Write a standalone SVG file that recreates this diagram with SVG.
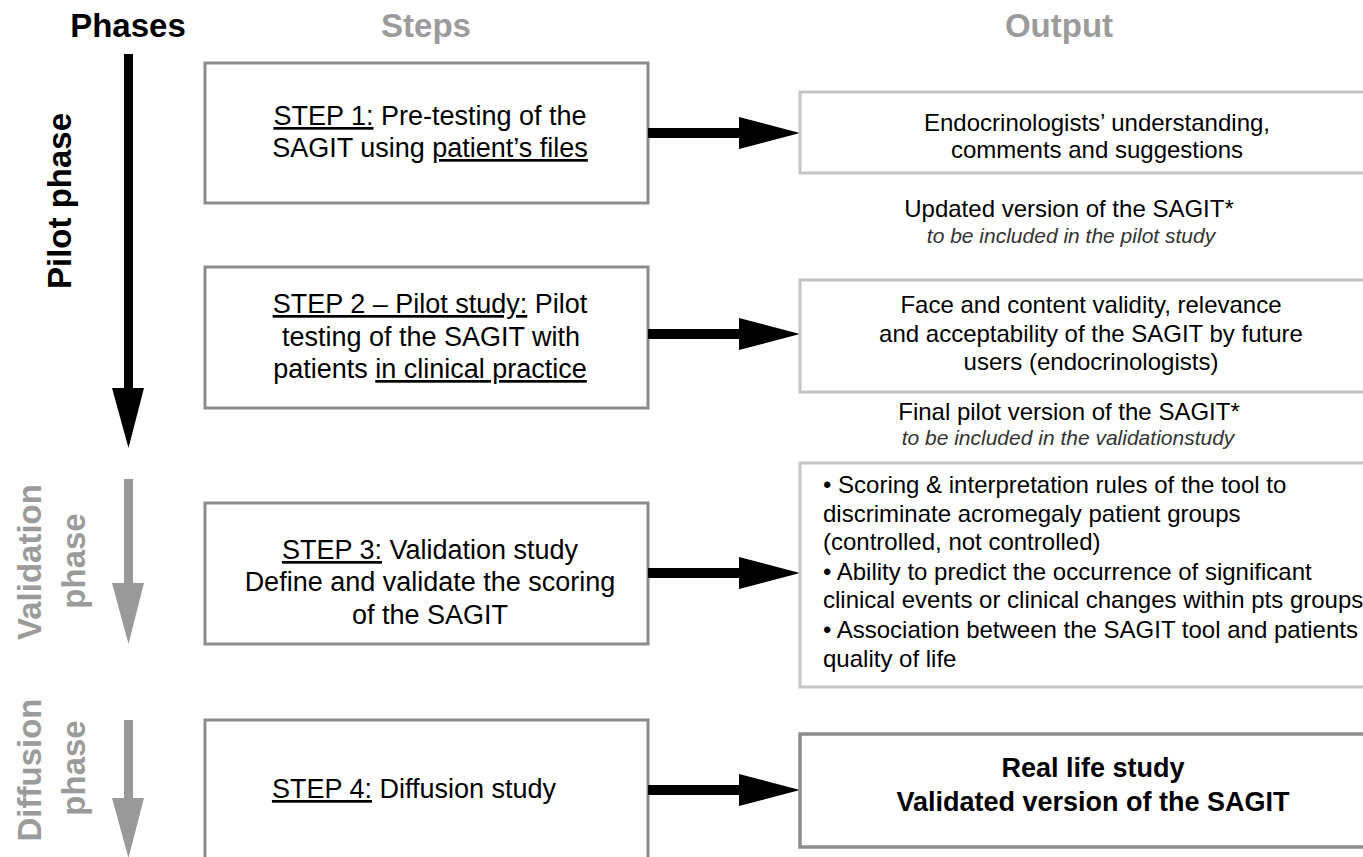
<svg xmlns="http://www.w3.org/2000/svg" width="1363" height="857" viewBox="0 0 1363 857">
<style>
text{font-family:"Liberation Sans",Arial,sans-serif}
.hd{font-size:33px;font-weight:bold;text-anchor:middle}
.ph{font-size:33px;font-weight:bold;text-anchor:middle}
.gray{fill:#9b9b9b}
.step{fill:#fff;stroke:#8c8c8c;stroke-width:3}
.out{fill:#fff;stroke:#c4c4c4;stroke-width:3}
.outd{fill:#fff;stroke:#8c8c8c;stroke-width:3.5}
.st{font-size:27px;text-anchor:middle;fill:#000}
.ot{font-size:24px;text-anchor:middle;fill:#000}
.ol{font-size:24px;fill:#000}
.it{font-size:21px;font-style:italic;text-anchor:middle;fill:#333}
.ob{font-size:27px;font-weight:bold;text-anchor:middle;fill:#000}
.u{text-decoration:underline}
</style>
<rect width="1363" height="857" fill="#fff"/>

<g id="headers">
<text class="hd" x="128" y="37" fill="#000">Phases</text>
<text class="hd gray" x="426" y="37">Steps</text>
<text class="hd gray" x="1059" y="37">Output</text>
</g>

<g id="phase-pilot">
<polygon points="124,54 133,54 133,388 144,388 128.5,448 112,388 124,388" fill="#000"/>
<text class="ph" transform="translate(71,201) rotate(-90)" fill="#000">Pilot phase</text>
</g>
<g id="phase-validation">
<polygon points="124,479 133,479 133,583 144,583 128.5,644 112,583 124,583" fill="#999"/>
<text class="ph gray" transform="translate(41,562) rotate(-90)">Validation</text>
<text class="ph gray" transform="translate(85,561) rotate(-90)">phase</text>
</g>
<g id="phase-diffusion">
<polygon points="124,720 133,720 133,798 144,798 128.5,858 112,798 124,798" fill="#999"/>
<text class="ph gray" transform="translate(41,770) rotate(-90)">Diffusion</text>
<text class="ph gray" transform="translate(85,768) rotate(-90)">phase</text>
</g>

<g id="step1">
<rect class="step" x="205" y="63" width="443" height="140"/>
<text class="st" x="430" y="125"><tspan class="u">STEP 1:</tspan> Pre-testing of the</text>
<text class="st" x="430" y="157">SAGIT using <tspan class="u">patient’s files</tspan></text>
</g>
<g id="step2">
<rect class="step" x="205" y="267" width="443" height="141"/>
<text class="st" x="430" y="313"><tspan class="u">STEP 2 – Pilot study:</tspan> Pilot</text>
<text class="st" x="431" y="346">testing of the SAGIT with</text>
<text class="st" x="430" y="378">patients <tspan class="u">in clinical practice</tspan></text>
</g>
<g id="step3">
<rect class="step" x="205" y="503" width="443" height="141"/>
<text class="st" x="430" y="559"><tspan class="u">STEP 3:</tspan> Validation study</text>
<text class="st" x="430" y="591">Define and validate the scoring</text>
<text class="st" x="430" y="624">of the SAGIT</text>
</g>
<g id="step4">
<rect class="step" x="205" y="720" width="443" height="160"/>
<text class="st" x="414" y="798"><tspan class="u">STEP 4:</tspan> Diffusion study</text>
</g>

<g id="connectors">
<polygon points="648,128 739,128 739,117 800,133 739,149 739,138 648,138" fill="#000"/>
<polygon points="648,329 739,329 739,318 800,334 739,350 739,339 648,339" fill="#000"/>
<polygon points="648,568 739,568 739,557 800,573 739,589 739,578 648,578" fill="#000"/>
<polygon points="648,785 739,785 739,774 800,790 739,806 739,795 648,795" fill="#000"/>
</g>

<g id="output1">
<rect class="out" x="800" y="92" width="600" height="81"/>
<text class="ot" x="1097" y="131">Endocrinologists’ understanding,</text>
<text class="ot" x="1097" y="158">comments and suggestions</text>
</g>
<g id="note1">
<text class="ot" x="1069" y="217">Updated version of the SAGIT*</text>
<text class="it" x="1071" y="243">to be included in the pilot study</text>
</g>
<g id="output2">
<rect class="out" x="800" y="280" width="600" height="112"/>
<text class="ot" x="1091" y="313">Face and content validity, relevance</text>
<text class="ot" x="1091" y="342">and acceptability of the SAGIT by future</text>
<text class="ot" x="1091" y="370">users (endocrinologists)</text>
</g>
<g id="note2">
<text class="ot" x="1069" y="420">Final pilot version of the SAGIT*</text>
<text class="it" x="1068" y="445">to be included in the validationstudy</text>
</g>
<g id="output3">
<rect class="out" x="800" y="463" width="600" height="224"/>
<text class="ol" x="823" y="493">• Scoring &amp; interpretation rules of the tool to</text>
<text class="ol" x="823" y="522">discriminate acromegaly patient groups</text>
<text class="ol" x="823" y="550">(controlled, not controlled)</text>
<text class="ol" x="823" y="580">• Ability to predict the occurrence of significant</text>
<text class="ol" x="823" y="608">clinical events or clinical changes within pts groups</text>
<text class="ol" x="823" y="638">• Association between the SAGIT tool and patients</text>
<text class="ol" x="823" y="667">quality of life</text>
</g>
<g id="output4">
<rect class="outd" x="800" y="734" width="600" height="113"/>
<text class="ob" x="1093" y="777">Real life study</text>
<text class="ob" x="1093" y="811">Validated version of the SAGIT</text>
</g>
</svg>
